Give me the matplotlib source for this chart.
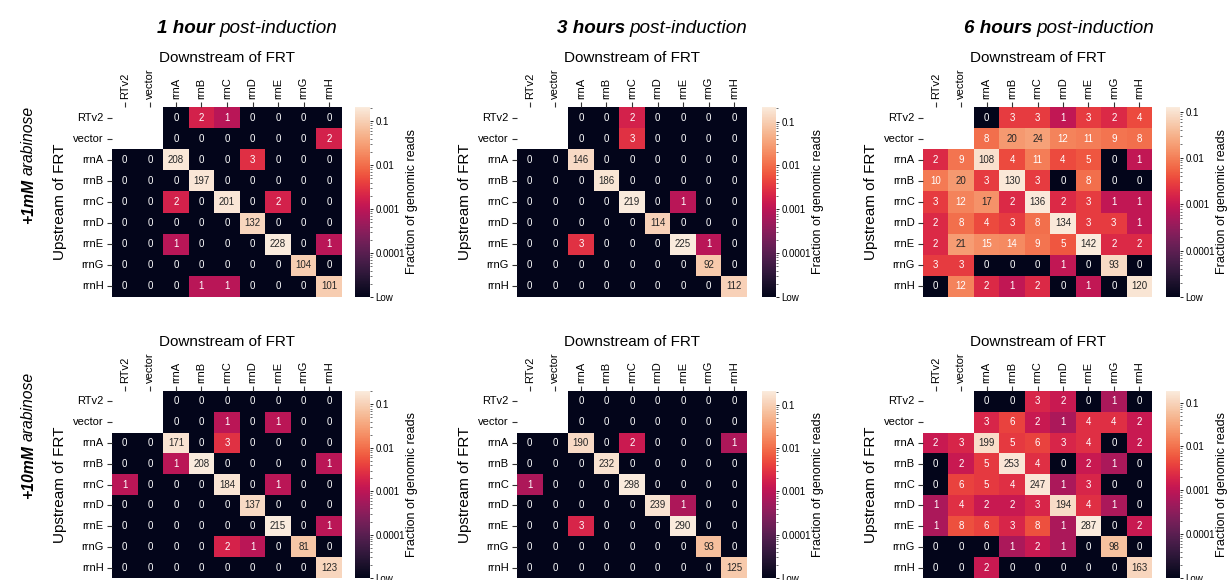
import numpy as np
import matplotlib
matplotlib.use("Agg")
import matplotlib.pyplot as plt
import seaborn as sns
from matplotlib.colors import LogNorm
from matplotlib import font_manager

# ---------------- data ----------------
labels = ["RTv2", "vector", "rrnA", "rrnB", "rrnC", "rrnD", "rrnE", "rrnG", "rrnH"]
n = np.nan

counts_1h_1mM = [
    [n, n, 0, 2, 1, 0, 0, 0, 0],
    [n, n, 0, 0, 0, 0, 0, 0, 2],
    [0, 0, 208, 0, 0, 3, 0, 0, 0],
    [0, 0, 0, 197, 0, 0, 0, 0, 0],
    [0, 0, 2, 0, 201, 0, 2, 0, 0],
    [0, 0, 0, 0, 0, 132, 0, 0, 0],
    [0, 0, 1, 0, 0, 0, 228, 0, 1],
    [0, 0, 0, 0, 0, 0, 0, 104, 0],
    [0, 0, 0, 1, 1, 0, 0, 0, 101],
]
counts_3h_1mM = [
    [n, n, 0, 0, 2, 0, 0, 0, 0],
    [n, n, 0, 0, 3, 0, 0, 0, 0],
    [0, 0, 146, 0, 0, 0, 0, 0, 0],
    [0, 0, 0, 186, 0, 0, 0, 0, 0],
    [0, 0, 0, 0, 219, 0, 1, 0, 0],
    [0, 0, 0, 0, 0, 114, 0, 0, 0],
    [0, 0, 3, 0, 0, 0, 225, 1, 0],
    [0, 0, 0, 0, 0, 0, 0, 92, 0],
    [0, 0, 0, 0, 0, 0, 0, 0, 112],
]
counts_6h_1mM = [
    [n, n, 0, 3, 3, 1, 3, 2, 4],
    [n, n, 8, 20, 24, 12, 11, 9, 8],
    [2, 9, 108, 4, 11, 4, 5, 0, 1],
    [10, 20, 3, 130, 3, 0, 8, 0, 0],
    [3, 12, 17, 2, 136, 2, 3, 1, 1],
    [2, 8, 4, 3, 8, 134, 3, 3, 1],
    [2, 21, 15, 14, 9, 5, 142, 2, 2],
    [3, 3, 0, 0, 0, 1, 0, 93, 0],
    [0, 12, 2, 1, 2, 0, 1, 0, 120],
]
counts_1h_10mM = [
    [n, n, 0, 0, 0, 0, 0, 0, 0],
    [n, n, 0, 0, 1, 0, 1, 0, 0],
    [0, 0, 171, 0, 3, 0, 0, 0, 0],
    [0, 0, 1, 208, 0, 0, 0, 0, 1],
    [1, 0, 0, 0, 184, 0, 1, 0, 0],
    [0, 0, 0, 0, 0, 137, 0, 0, 0],
    [0, 0, 0, 0, 0, 0, 215, 0, 1],
    [0, 0, 0, 0, 2, 1, 0, 81, 0],
    [0, 0, 0, 0, 0, 0, 0, 0, 123],
]
counts_3h_10mM = [
    [n, n, 0, 0, 0, 0, 0, 0, 0],
    [n, n, 0, 0, 0, 0, 0, 0, 0],
    [0, 0, 190, 0, 2, 0, 0, 0, 1],
    [0, 0, 0, 232, 0, 0, 0, 0, 0],
    [1, 0, 0, 0, 298, 0, 0, 0, 0],
    [0, 0, 0, 0, 0, 239, 1, 0, 0],
    [0, 0, 3, 0, 0, 0, 290, 0, 0],
    [0, 0, 0, 0, 0, 0, 0, 93, 0],
    [0, 0, 0, 0, 0, 0, 0, 0, 125],
]
counts_6h_10mM = [
    [n, n, 0, 0, 3, 2, 0, 1, 0],
    [n, n, 3, 6, 2, 1, 4, 4, 2],
    [2, 3, 199, 5, 6, 3, 4, 0, 2],
    [0, 2, 5, 253, 4, 0, 2, 1, 0],
    [0, 6, 5, 4, 247, 1, 3, 0, 0],
    [1, 4, 2, 2, 3, 194, 4, 1, 0],
    [1, 8, 6, 3, 8, 1, 287, 0, 2],
    [0, 0, 0, 1, 2, 1, 0, 98, 0],
    [0, 0, 2, 0, 0, 0, 0, 0, 163],
]

# estimated total genomic reads per panel (sets fraction colour scale)
total_reads = [1085, 1050, 1127, 1054, 1426, 1568]

time_bold = ["1 hour", "3 hours", "6 hours"]
time_rest = ["post-induction", "post-induction", "post-induction"]
cond_bold = ["+1mM", "+10mM"]
cond_rest = ["arabinose", "arabinose"]
cbar_tick_values = [1e-5, 1e-4, 1e-3, 1e-2, 1e-1]
cbar_tick_labels = ["Low", "0.0001", "0.001", "0.01", "0.1"]
low_value = 1e-5

panels = [counts_1h_1mM, counts_3h_1mM, counts_6h_1mM,
          counts_1h_10mM, counts_3h_10mM, counts_6h_10mM]

# ---------------- style ----------------
plt.rcParams['font.family'] = ['Liberation Sans', 'DejaVu Sans']
names = {f.name for f in font_manager.fontManager.ttflist}
narrow = 'Liberation Sans Narrow' in names
head_family = ['Liberation Sans Narrow', 'Liberation Sans'] if narrow else ['Liberation Sans']
title_fs = 15.5 if narrow else 13.6
cond_fs = 14 if narrow else 11.3

W, H = 1227, 580
fig = plt.figure(figsize=(W / 100, H / 100), dpi=100)


def rect(l, t, r, b):
    return [l / W, 1 - b / H, (r - l) / W, (b - t) / H]


col_x = [(112, 342), (517, 747), (923, 1152)]
cbar_x = [(355, 370), (762, 776), (1166, 1180)]
row_y = [(107, 297), (391, 578)]

cmap = sns.color_palette("rocket", as_cmap=True)

for i, counts in enumerate(panels):
    r, c = divmod(i, 3)
    arr = np.array(counts, dtype=float)
    frac = np.where(np.isnan(arr), np.nan, np.maximum(arr / total_reads[i], low_value))
    mask = np.isnan(arr)
    norm = LogNorm(vmin=low_value, vmax=np.nanmax(arr) / total_reads[i])
    ax = fig.add_axes(rect(col_x[c][0], row_y[r][0], col_x[c][1], row_y[r][1]))
    cax = fig.add_axes(rect(cbar_x[c][0], row_y[r][0], cbar_x[c][1], row_y[r][1]))
    sns.heatmap(frac, mask=mask, norm=norm, cmap=cmap, annot=arr, fmt=".0f",
                annot_kws={"fontsize": 7}, ax=ax, cbar_ax=cax,
                xticklabels=labels, yticklabels=labels)
    ax.xaxis.tick_top()
    ax.xaxis.set_label_position('top')
    ax.set_xticklabels(labels, rotation=90, fontsize=8)
    ax.set_yticklabels(labels, rotation=0, fontsize=8)
    ax.tick_params(axis='both', length=3.5, width=0.8, color='#333333', pad=2.5)
    ax.set_xlabel("Downstream of FRT", fontsize=11, labelpad=4)
    ax.set_ylabel("Upstream of FRT", fontsize=11, labelpad=4)
    cb = ax.collections[0].colorbar
    cb.set_ticks(cbar_tick_values)
    cb.set_ticklabels(cbar_tick_labels)
    cax.tick_params(which='major', labelsize=7, length=2.5, width=0.6, pad=1.5)
    cax.tick_params(which='minor', length=1.5, width=0.4)
    cb.set_label("Fraction of genomic reads", fontsize=9, labelpad=1)
    cb.outline.set_visible(False)

renderer = fig.canvas.get_renderer()


def mixed_h(xc, y_base, bold, rest, fs):
    t1 = fig.text(0, 0, bold, fontsize=fs, fontweight='bold', fontstyle='italic',
                  family=head_family, ha='left', va='baseline')
    t2 = fig.text(0, 0, rest, fontsize=fs, fontstyle='italic',
                  family=head_family, ha='left', va='baseline')
    w1 = t1.get_window_extent(renderer).width
    w2 = t2.get_window_extent(renderer).width
    gap = fs * 100 / 72 * 0.26
    x0 = xc - (w1 + gap + w2) / 2
    yb = 1 - y_base / H
    t1.set_position((x0 / W, yb))
    t2.set_position(((x0 + w1 + gap) / W, yb))


def mixed_v(x_base, yc, bold, rest, fs):
    t1 = fig.text(0, 0, bold, fontsize=fs, fontweight='bold', fontstyle='italic',
                  family=head_family, ha='left', va='baseline', rotation=90,
                  rotation_mode='anchor')
    t2 = fig.text(0, 0, rest, fontsize=fs, fontstyle='italic',
                  family=head_family, ha='left', va='baseline', rotation=90,
                  rotation_mode='anchor')
    h1 = t1.get_window_extent(renderer).height
    h2 = t2.get_window_extent(renderer).height
    gap = fs * 100 / 72 * 0.26
    y0 = (H - yc) - (h1 + gap + h2) / 2
    t1.set_position((x_base / W, y0 / H))
    t2.set_position((x_base / W, (y0 + h1 + gap) / H))


title_x = [247, 652, 1059]
for k in range(3):
    mixed_h(title_x[k], 33, time_bold[k], time_rest[k], title_fs)

cond_y = [165, 435]
for k in range(2):
    mixed_v(33, cond_y[k], cond_bold[k], cond_rest[k], cond_fs)

fig.savefig("out.png", dpi=100)
